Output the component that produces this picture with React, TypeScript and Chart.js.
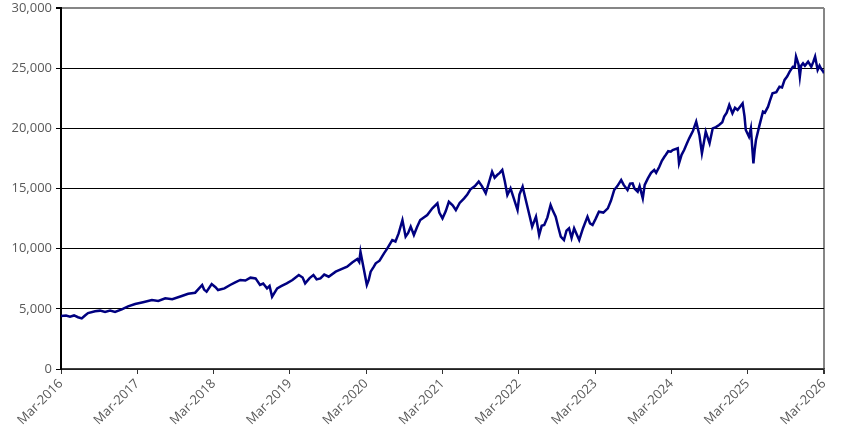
import React, { useEffect, useRef } from "react";
import { Chart, registerables } from "chart.js";

Chart.register(...registerables);

// Months elapsed since Mar-2016
const months: number[] = [
  0, 0.79, 1.42, 2.05, 2.68, 3.26, 3.78, 4.25, 5.36, 6.14, 6.93, 7.72, 8.5, 9.56, 10.55, 11.66,
  12.9, 14.3, 15.3, 16.4, 17.5, 19.0, 20.0, 21.1, 22.2, 22.5, 22.9, 23.7, 24.3, 24.7, 25.7, 26.6,
  27.4, 28.2, 29.0, 29.8, 30.6, 31.3, 31.8, 32.4, 32.8, 33.2, 34.0, 34.7, 35.5, 36.4, 37.4, 38.0,
  38.4, 39.1, 39.7, 40.2, 40.8, 41.4, 42.1, 43.2, 44.1, 45.0, 45.8, 46.6, 46.9, 47.1, 47.6, 48.1,
  48.4, 48.7, 49.2, 49.5, 50.1, 50.8, 51.3, 52.1, 52.6, 53.1, 53.7, 54.2, 54.6, 55.0, 55.5, 56.0,
  56.5, 57.6, 58.4, 59.2, 59.5, 60.0, 60.5, 61.0, 61.6, 62.1, 62.7, 63.4, 63.9, 64.4, 65.1, 65.7,
  66.2, 66.8, 67.3, 67.8, 68.2, 68.6, 69.0, 69.4, 69.8, 70.2, 70.7, 71.2, 71.8, 72.1, 72.6, 73.1,
  73.6, 74.1, 74.7, 75.2, 75.6, 76.0, 76.5, 77.0, 77.4, 77.8, 78.2, 78.6, 79.1, 79.5, 79.9, 80.3,
  80.7, 81.1, 81.5, 82.1, 82.8, 83.2, 83.6, 84.1, 84.6, 85.3, 86.0, 86.5, 87.0, 87.5, 88.1, 88.5,
  89.1, 89.5, 89.9, 90.2, 90.7, 91.0, 91.5, 91.8, 92.3, 92.8, 93.3, 93.6, 94.1, 94.5, 94.9, 95.1,
  95.5, 95.9, 96.2, 97.0, 97.2, 97.6, 98.0, 98.4, 98.8, 99.4, 99.9, 100.4, 100.8, 101.1, 101.4, 102.0,
  102.5, 103.0, 103.5, 104.0, 104.3, 104.7, 105.1, 105.6, 106.0, 106.4, 106.8, 107.2, 107.5, 107.7, 108.2, 108.5,
  108.7, 108.9, 109.1, 109.3, 109.8, 110.4, 110.7, 111.2, 111.5, 111.9, 112.5, 113.0, 113.4, 113.8, 114.2, 114.6,
  115.1, 115.4, 115.6, 116.0, 116.2, 116.4, 116.7, 117.0, 117.5, 118.0, 118.3, 118.6, 119.0, 119.3, 119.5, 119.9,
  120.0,
];

const values: number[] = [
  4400, 4450, 4350, 4450, 4300, 4200, 4450, 4650, 4800, 4850, 4750, 4850, 4750, 4960, 5200, 5400,
  5550, 5730, 5650, 5870, 5800, 6070, 6250, 6340, 6980, 6600, 6420, 7060, 6800, 6560, 6700, 6980,
  7200, 7400, 7350, 7590, 7530, 6980, 7100, 6700, 6900, 6010, 6700, 6900, 7120, 7400, 7810, 7600,
  7120, 7550, 7810, 7450, 7530, 7850, 7670, 8090, 8300, 8500, 8850, 9140, 8900, 9750, 8370, 6980,
  7400, 8090, 8500, 8780, 9000, 9610, 10000, 10720, 10600, 11270, 12380, 11000, 11300, 11830, 11140, 11800,
  12380, 12800, 13350, 13770, 13000, 12520, 13100, 13900, 13600, 13210, 13800, 14180, 14500, 14930, 15200, 15570,
  15200, 14600, 15500, 16400, 15900, 16120, 16300, 16540, 15600, 14460, 15010, 14200, 13210, 14500, 15150, 14040,
  12940, 11830, 12660, 11140, 11900, 11970, 12600, 13630, 13100, 12660, 11800, 11000, 10720, 11500, 11690, 10900,
  11690, 11200, 10720, 11700, 12660, 12100, 11970, 12500, 13070, 13000, 13350, 14000, 14870, 15200, 15700, 15300,
  14870, 15400, 15430, 15000, 14730, 15200, 14180, 15300, 15840, 16300, 16540, 16300, 16810, 17300, 17640, 17780,
  18100, 18060, 18200, 18340, 17090, 17800, 18200, 18700, 19170, 19800, 20550, 19450, 17930, 18800, 19720, 18760,
  20000, 20100, 20280, 20500, 20970, 21300, 21940, 21250, 21700, 21520, 21800, 22080, 21000, 19860, 19300, 20000,
  18500, 17090, 18200, 19030, 20140, 21390, 21300, 21800, 22300, 22910, 23000, 23460, 23400, 24020, 24300, 24710,
  25120, 25100, 25960, 25300, 24300, 25200, 25400, 25200, 25540, 25120, 25500, 25960, 24850, 25200, 24990, 24700,
  24570,
];

const tickMonths: number[] = [0, 12, 24, 36, 48, 60, 72, 84, 96, 108, 120];
const tickLabels: string[] = [
  "Mar-2016", "Mar-2017", "Mar-2018", "Mar-2019", "Mar-2020", "Mar-2021",
  "Mar-2022", "Mar-2023", "Mar-2024", "Mar-2025", "Mar-2026",
];
const yTicks: number[] = [0, 5000, 10000, 15000, 20000, 25000, 30000];

export default function App() {
  const ref = useRef<HTMLCanvasElement | null>(null);
  useEffect(() => {
    if (!ref.current) return;
    const font = { family: "'Open Sans', sans-serif", size: 13 };
    const chart = new Chart(ref.current, {
      type: "line",
      data: {
        datasets: [
          {
            data: months.map((m, i) => ({ x: m, y: values[i] })),
            borderColor: "#000080",
            borderWidth: 2.5,
            pointRadius: 0,
            tension: 0,
            fill: false,
          },
        ],
      },
      options: {
        responsive: false,
        animation: false,
        devicePixelRatio: 1,
        layout: { padding: { left: 0, top: 8, right: 24, bottom: 0 } },
        plugins: { legend: { display: false }, tooltip: { enabled: false } },
        scales: {
          x: {
            type: "linear",
            min: 0,
            max: 120,
            afterBuildTicks: (s: any) => {
              s.ticks = tickMonths.map((v) => ({ value: v }));
            },
            afterFit: (s: any) => {
              s.height = 70;
              s.paddingLeft = 0;
              s.paddingRight = 0;
            },
            ticks: {
              autoSkip: false,
              maxRotation: 45,
              minRotation: 45,
              color: "#595959",
              font,
              padding: 2,
              callback: (v: any) => {
                const i = tickMonths.indexOf(Number(v));
                return i >= 0 ? tickLabels[i] : "";
              },
            },
            grid: {
              drawOnChartArea: true,
              color: (c: any) => (c.tick && c.tick.value === 120 ? "#868686" : "rgba(0,0,0,0)"),
              lineWidth: (c: any) => (c.tick && c.tick.value === 120 ? 2 : 1),
              tickColor: "#333333",
              tickLength: 5,
            },
            border: { display: true, color: "#404040", width: 1.5 },
          },
          y: {
            min: 0,
            max: 30000,
            afterBuildTicks: (s: any) => {
              s.ticks = yTicks.map((v) => ({ value: v }));
            },
            afterFit: (s: any) => {
              s.width = 61;
              s.paddingTop = 0;
              s.paddingBottom = 0;
            },
            ticks: {
              color: "#595959",
              font,
              padding: 4,
              callback: (v: any) => Number(v).toLocaleString("en-US"),
            },
            grid: {
              color: (c: any) => (c.tick && c.tick.value === 30000 ? "#868686" : "#000000"),
              lineWidth: (c: any) => (c.tick && c.tick.value === 30000 ? 2 : 1),
              tickColor: "#000000",
              tickLength: 5,
            },
            border: { display: true, color: "#000000", width: 2 },
          },
        },
      },
    } as any);
    return () => chart.destroy();
  }, []);
  return (
    <div style={{ position: "absolute", left: 0, top: 0, width: 848, height: 439 }}>
      <canvas ref={ref} width={848} height={439} style={{ display: "block" }} />
    </div>
  );
}
